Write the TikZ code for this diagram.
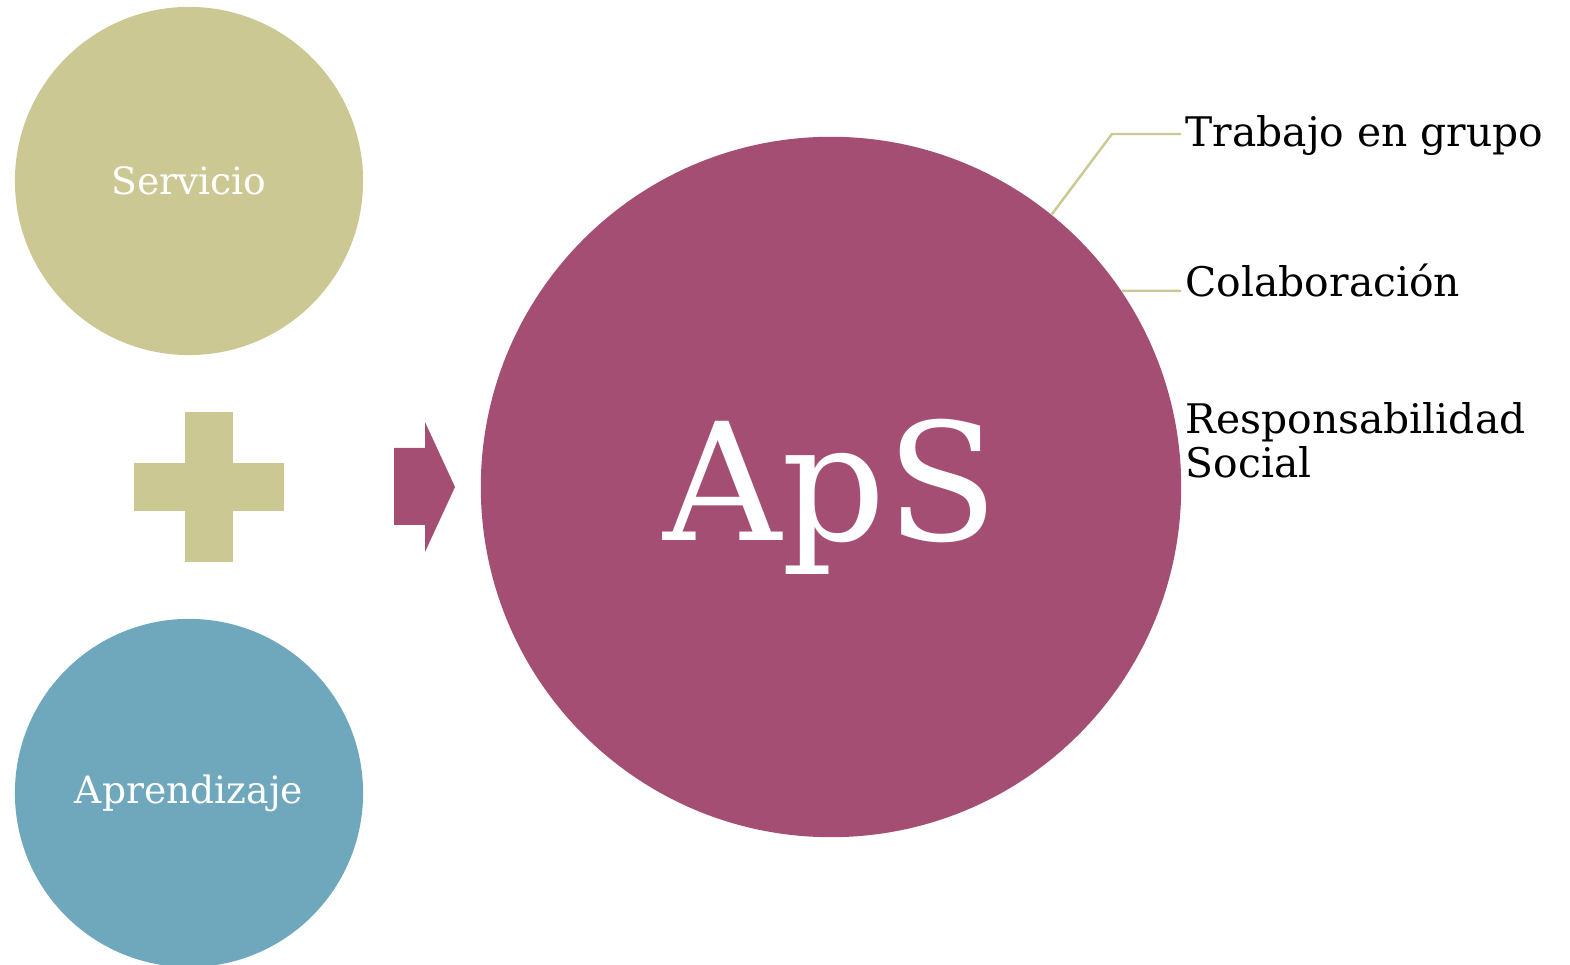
\documentclass[tikz,border=0pt]{standalone}
\usepackage{fontspec}
\setmainfont{DejaVu Serif}
\usetikzlibrary{positioning}

\definecolor{khaki}{HTML}{CCC894}
\definecolor{plum}{HTML}{A54E74}
\definecolor{teal}{HTML}{6FA8BC}

\begin{document}
\begin{tikzpicture}
  [x=0.01cm,y=-0.01cm,
   bubble/.style={circle,inner sep=0pt,minimum size=3.48cm,text=white,font=\fontsize{10.7}{13}\selectfont},
   bigbubble/.style={circle,inner sep=0pt,minimum size=7cm,fill=plum},
   bigname/.style={inner sep=0pt,text=white,font=\fontsize{46.5}{50}\selectfont},
   item/.style={anchor=base west,inner sep=0pt,font=\fontsize{11.6}{12.5}\selectfont,align=left},
   link/.style={draw=khaki,line width=0.7pt}]
  \useasboundingbox (0,0) rectangle (1570,965);

  \node[bubble,fill=khaki] (serv) at (189,181) {Servicio};
  \node[bubble,fill=teal] (apre) at (189,793) {Aprendizaje};
  \node[bigbubble] (aps) at (831,487) {};
  \node[bigname] (apsname) at (831,497) {ApS};

  % plus
  \fill[khaki] (185,412) rectangle (233,562);
  \fill[khaki] (134,463) rectangle (284,511);

  % arrow
  \fill[plum] (394,448) -- (425,448) -- (425,422) -- (455,487)
    -- (425,552) -- (425,525) -- (394,525) -- cycle;

  \node[item] (trab) at (1185,147) {Trabajo en grupo};
  \node[item] (cola) at (1185,297) {Colaboración};
  \node[item,anchor=north west] (resp) at (1185,402) {Responsabilidad\\Social};

  \coordinate (bend) at (1112,134);
  \coordinate (trabend) at (1181,134);
  \coordinate (colaend) at (1181,291);
  \draw[link] (aps.51) -- (bend) -- (trabend);
  \draw[link] (aps.34) -- (colaend);
\end{tikzpicture}
\end{document}
